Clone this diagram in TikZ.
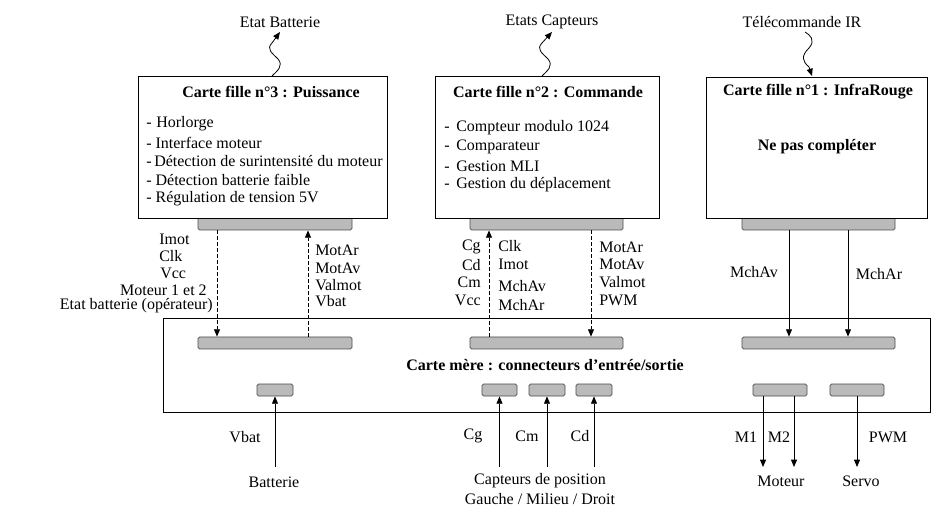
\documentclass[tikz,border=0pt]{standalone}
\usepackage{fontspec}
\setmainfont{Liberation Serif}
\usetikzlibrary{arrows.meta}
\tikzset{
 card/.style={draw, fill=white, line width=0.6pt, inner sep=0pt},
 conn/.style={draw=black!70, fill=black!27, rounded corners=1.2pt, line width=0.6pt, inner sep=0pt},
 txt/.style={inner sep=0pt, font=\fontsize{12}{14}\selectfont},
 ttl/.style={inner sep=0pt, font=\fontsize{12}{14}\selectfont\bfseries},
 tip/.style={-{Triangle[length=5.5pt,width=4.5pt]}},
 link/.style={line width=0.6pt},
 dlink/.style={line width=0.6pt, dash pattern=on 2.5pt off 2pt},
}
\begin{document}
\begin{tikzpicture}[x=0.75pt,y=-0.75pt]
\useasboundingbox[fill=white] (0,0) rectangle (941,530);

% mother board
\node[card, minimum width=575.25pt, minimum height=70.5pt] (mb) at (546.5,365) {};
\node[ttl] (mbt) at (545,365) {Carte mère : connecteurs d’entrée/sortie};
\node[conn, minimum width=115.5pt, minimum height=9pt] (m3) at (275,343) {};
\node[conn, minimum width=114.75pt, minimum height=9pt] (m2) at (546.5,343) {};
\node[conn, minimum width=114.75pt, minimum height=9pt] (m1) at (818.5,343) {};
\node[conn, minimum width=27pt, minimum height=9pt] (bt) at (275,390) {};
\node[conn, minimum width=26.25pt, minimum height=9pt] (cgc) at (499.5,390) {};
\node[conn, minimum width=27pt, minimum height=9pt] (cmc) at (547,390) {};
\node[conn, minimum width=27pt, minimum height=9pt] (cdc) at (594,390) {};
\node[conn, minimum width=40.5pt, minimum height=9pt] (mtc) at (780,390) {};
\node[conn, minimum width=40.5pt, minimum height=9pt] (svc) at (857,390) {};

% daughter boards connectors
\node[conn, minimum width=115.5pt, minimum height=13.5pt] (c3) at (275,221) {};
\node[conn, minimum width=114.75pt, minimum height=13.5pt] (c2) at (546.5,221) {};
\node[conn, minimum width=114.75pt, minimum height=13.5pt] (c1) at (818.5,221) {};

% daughter boards
\node[card, minimum width=186.75pt, minimum height=106.5pt] (b3) at (262.5,147) {};
\node[card, minimum width=168pt, minimum height=106.5pt] (b2) at (547,147) {};
\node[card, minimum width=165.75pt, minimum height=105.75pt] (b1) at (816.5,147.5) {};

\node[ttl] (b3t) at (271,92) {Carte fille n°3 : Puissance};
\node[txt, anchor=west] (b3a) at (146,124) {-\hspace{3.5pt}Horlorge};
\node[txt, anchor=west] (b3b) at (146,143) {-\hspace{3pt}Interface moteur};
\node[txt, anchor=west] (b3c) at (146,161) {-\hspace{2pt}Détection de surintensité du moteur};
\node[txt, anchor=west] (b3d) at (146,180) {-\hspace{3pt}Détection batterie faible};
\node[txt, anchor=west] (b3e) at (146,199) {-\hspace{3pt}Régulation de tension 5V};

\node[ttl] (b2t) at (548,92) {Carte fille n°2 : Commande};
\node[txt, anchor=west] (b2a) at (444,128) {-\hspace{5pt}Compteur modulo 1024};
\node[txt, anchor=west] (b2b) at (444,147) {-\hspace{5pt}Comparateur};
\node[txt, anchor=west] (b2c) at (444,166) {-\hspace{5pt}Gestion MLI};
\node[txt, anchor=west] (b2d) at (444,185) {-\hspace{5pt}Gestion du déplacement};

\node[ttl] (b1t) at (818,92) {Carte fille n°1 : InfraRouge};
\node[ttl] (b1n) at (817,147) {Ne pas compléter};

% top external signals
\node[txt] (eb) at (280,22) {Etat Batterie};
\node[txt] (ec) at (552,22) {Etats Capteurs};
\node[txt] (ir) at (802,22) {Télécommande IR};
\coordinate (w3s) at (272,76);
\coordinate (w3e) at (280,32);
\coordinate (w2s) at (542,76);
\coordinate (w2e) at (552,32);
\coordinate (w1s) at (805,32);
\coordinate (w1e) at (812,76);
\draw[link, tip] (w3s) .. controls (277,71) and (284,66) .. (278,59)
  .. controls (272,53) and (266,49) .. (272,43) -- (w3e);
\draw[link, tip] (w2s) .. controls (547,71) and (554,66) .. (548,59)
  .. controls (542,53) and (536,49) .. (542,43) -- (w2e);
\draw[link, tip] (w1s) .. controls (810,35) and (816,40) .. (809,48)
  .. controls (801,56) and (802,61) .. (809,67) -- (w1e);

% vertical links daughter <-> mother
\coordinate (xa) at (217,0);
\coordinate (xb) at (308,0);
\coordinate (xc) at (489,0);
\coordinate (xd) at (591,0);
\coordinate (xe) at (789,0);
\coordinate (xf) at (848,0);
\draw[dlink, tip] (c3.south -| xa) -- (m3.north -| xa);
\draw[dlink, tip] (m3.north -| xb) -- (c3.south -| xb);
\draw[dlink, tip] (m2.north -| xc) -- (c2.south -| xc);
\draw[dlink, tip] (c2.south -| xd) -- (m2.north -| xd);
\draw[link, tip] (c1.south -| xe) -- (m1.north -| xe);
\draw[link, tip] (c1.south -| xf) -- (m1.north -| xf);

% labels of links
\node[txt, anchor=west] (l1) at (159,239) {Imot};
\node[txt, anchor=west] (l2) at (159,256) {Clk};
\node[txt, anchor=west] (l3) at (160,273) {Vcc};
\node[txt, anchor=east] (l4) at (207,290) {Moteur 1 et 2};
\node[txt, anchor=east] (l5) at (213,306) {Etat batterie (opérateur)};
\node[txt, anchor=west] (r1) at (315,250) {MotAr};
\node[txt, anchor=west] (r2) at (315,268) {MotAv};
\node[txt, anchor=west] (r3) at (315,285) {Valmot};
\node[txt, anchor=west] (r4) at (315,301) {Vbat};

\node[txt, anchor=east] (p1) at (481,247) {Cg};
\node[txt, anchor=east] (p2) at (481,265) {Cd};
\node[txt, anchor=east] (p3) at (481,282) {Cm};
\node[txt, anchor=east] (p4) at (481,300) {Vcc};
\node[txt, anchor=west] (q1) at (498,246) {Clk};
\node[txt, anchor=west] (q2) at (498,264) {Imot};
\node[txt, anchor=west] (q3) at (498,286) {MchAv};
\node[txt, anchor=west] (q4) at (498,305) {MchAr};
\node[txt, anchor=west] (s1) at (599,247) {MotAr};
\node[txt, anchor=west] (s2) at (599,264) {MotAv};
\node[txt, anchor=west] (s3) at (599,282) {Valmot};
\node[txt, anchor=west] (s4) at (599,300) {PWM};

\node[txt] (ia) at (754,272) {MchAv};
\node[txt] (ib) at (879,274) {MchAr};

% bottom links
\coordinate (kb) at (0,467);
\coordinate (xm1) at (763,0);
\coordinate (xm2) at (794,0);
\draw[link, tip] (bt.south |- kb) -- (bt.south);
\draw[link, tip] (cgc.south |- kb) -- (cgc.south);
\draw[link, tip] (cmc.south |- kb) -- (cmc.south);
\draw[link, tip] (cdc.south |- kb) -- (cdc.south);
\draw[link, tip] (mtc.south -| xm1) -- (xm1 |- kb);
\draw[link, tip] (mtc.south -| xm2) -- (xm2 |- kb);
\draw[link, tip] (svc.south) -- (svc.south |- kb);

\node[txt] (vb) at (245,437) {Vbat};
\node[txt] (cg) at (473,436) {Cg};
\node[txt] (cm) at (527,436) {Cm};
\node[txt] (cd) at (580,436) {Cd};
\node[txt] (m1l) at (746,437) {M1};
\node[txt] (m2l) at (779,437) {M2};
\node[txt] (pw) at (888,437) {PWM};

\node[txt] (bat) at (274,482) {Batterie};
\node[txt] (cap1) at (540,481) {Capteurs de position};
\node[txt] (cap2) at (540,499) {Gauche / Milieu / Droit};
\node[txt] (mot) at (781,481) {Moteur};
\node[txt] (srv) at (861,481) {Servo};
\end{tikzpicture}
\end{document}
